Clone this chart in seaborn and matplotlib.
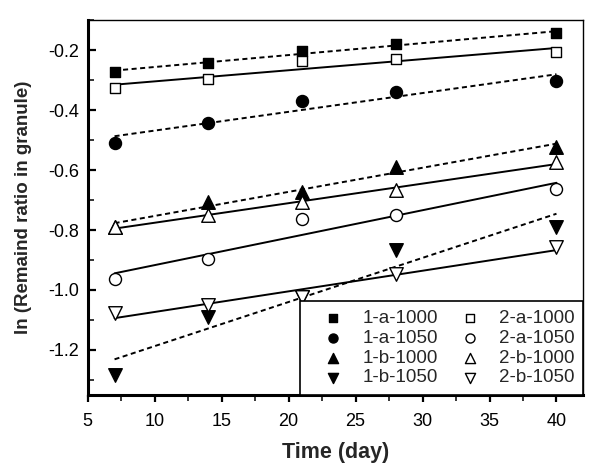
import numpy as np
import pandas as pd
import matplotlib
matplotlib.use("Agg")
import matplotlib.pyplot as plt
from matplotlib.ticker import MultipleLocator
import seaborn as sns

# Data
days = [7, 14, 21, 28, 40]
s_1a1000 = [-0.273, -0.243, -0.203, -0.180, -0.143]
s_2a1000 = [-0.327, -0.297, -0.237, -0.230, -0.207]
s_1a1050 = [-0.510, -0.443, -0.370, -0.340, -0.303]
s_2a1050 = [-0.963, -0.897, -0.763, -0.750, -0.663]
s_1b1000 = [-0.790, -0.707, -0.673, -0.590, -0.523]
s_2b1000 = [-0.790, -0.750, -0.707, -0.667, -0.573]
s_1b1050 = [-1.283, -1.090, -1.023, -0.867, -0.790]  # day 21 sits under the open marker
s_2b1050 = [-1.077, -1.050, -1.023, -0.947, -0.857]

series = {
    "1-a-1000": s_1a1000, "1-a-1050": s_1a1050,
    "1-b-1000": s_1b1000, "1-b-1050": s_1b1050,
    "2-a-1000": s_2a1000, "2-a-1050": s_2a1050,
    "2-b-1000": s_2b1000, "2-b-1050": s_2b1050,
}
markers = {"a-1000": "s", "a-1050": "o", "b-1000": "^", "b-1050": "v"}
msizes = {"a-1000": 60, "a-1050": 75, "b-1000": 95, "b-1050": 95}

rows = []
for name, vals in series.items():
    for d, v in zip(days, vals):
        rows.append({"series": name, "day": d, "value": v})
df = pd.DataFrame(rows)

sns.set_theme(style="ticks")
plt.rcParams["font.family"] = ["Liberation Sans", "DejaVu Sans"]

fig = plt.figure(figsize=(5.97, 4.69), dpi=100)
ax = fig.add_axes([0.147, 0.158, 0.830, 0.799])

# -----------------------------
# Fit lines (dashed for set 1, solid for set 2)
# -----------------------------
for name in series:
    sub = df[df["series"] == name]
    ls = (0, (2.6, 1.8)) if name.startswith("1") else "-"
    sns.regplot(data=sub, x="day", y="value", scatter=False, ci=None, ax=ax,
                color="black", line_kws={"linewidth": 1.4, "linestyle": ls})

# -----------------------------
# Markers
# -----------------------------
for name in series:
    sub = df[df["series"] == name]
    filled = name.startswith("1")
    sns.scatterplot(data=sub, x="day", y="value", ax=ax,
                    marker=markers[name[2:]], s=msizes[name[2:]],
                    color="black" if filled else "white",
                    edgecolor="black", linewidth=1.0, label=name, zorder=3)

ax.set_xlim(5, 42)
ax.set_ylim(-1.35, -0.1)
ax.xaxis.set_major_locator(MultipleLocator(5))
ax.xaxis.set_minor_locator(MultipleLocator(2.5))
ax.yaxis.set_major_locator(MultipleLocator(0.2))
ax.yaxis.set_minor_locator(MultipleLocator(0.1))
ax.yaxis.set_major_formatter(plt.FuncFormatter(lambda v, p: f"{v:.1f}"))
ax.tick_params(axis="x", which="major", direction="out", length=5, width=1.6,
               labelsize=13, pad=8, colors="black")
ax.tick_params(axis="x", which="minor", direction="out", length=4, width=1.3)
ax.tick_params(axis="y", which="major", direction="in", length=6, width=1.6,
               labelsize=13, pad=6, colors="black")
ax.tick_params(axis="y", which="minor", direction="in", length=4, width=1.3)
for side, sp in ax.spines.items():
    sp.set_visible(True)
    sp.set_color("black")
    sp.set_linewidth(2.2 if side in ("left", "bottom") else 1.0)

ax.set_xlabel("Time (day)", fontsize=15.5, fontweight="bold", labelpad=9)
ax.set_ylabel("ln (Remaind ratio in granule)", fontsize=13.5,
              fontweight="bold", labelpad=12)

leg = ax.legend(loc="lower right", ncol=2, frameon=True, fancybox=False,
                fontsize=13.5, markerscale=0.75, borderaxespad=0,
                handlelength=2.6, handletextpad=0.27, columnspacing=0.4,
                labelspacing=0.15, borderpad=0.45)
leg.get_frame().set_edgecolor("black")
leg.get_frame().set_linewidth(1.2)
leg.get_frame().set_alpha(1)
leg.set_zorder(5)

plt.savefig("out.png", dpi=100)
